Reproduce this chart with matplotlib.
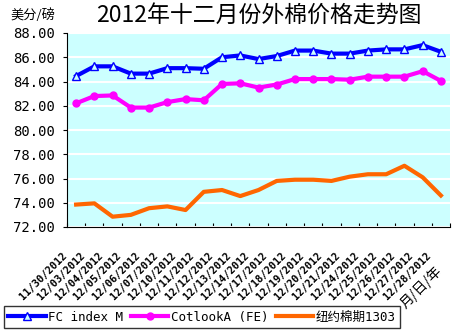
import matplotlib

matplotlib.use("Agg")
from matplotlib import pyplot as plt

plt.rcParams['font.family'] = ['Noto Sans CJK SC', 'DejaVu Sans']

dates = ['11/30/2012', '12/03/2012', '12/04/2012', '12/05/2012', '12/06/2012',
         '12/07/2012', '12/10/2012', '12/11/2012', '12/12/2012', '12/13/2012',
         '12/14/2012', '12/17/2012', '12/18/2012', '12/19/2012', '12/20/2012',
         '12/21/2012', '12/24/2012', '12/25/2012', '12/26/2012', '12/27/2012',
         '12/28/2012']
fc_index = [84.45, 85.25, 85.25, 84.65, 84.65, 85.1, 85.1, 85.05, 86.0, 86.15,
            85.85, 86.1, 86.55, 86.55, 86.3, 86.3, 86.55, 86.65, 86.65, 87.0, 86.45]
cotlook = [82.2, 82.8, 82.85, 81.85, 81.85, 82.3, 82.55, 82.45, 83.8, 83.85,
           83.5, 83.75, 84.2, 84.2, 84.2, 84.15, 84.4, 84.4, 84.4, 84.85, 84.05]
ny_1303 = [73.85, 73.95, 72.85, 73.0, 73.55, 73.7, 73.4, 74.9, 75.05, 74.55,
           75.05, 75.8, 75.9, 75.9, 75.8, 76.15, 76.35, 76.35, 77.05, 76.1, 74.6]

fig = plt.figure(figsize=(4.57, 3.31), dpi=100)
ax = fig.add_axes([67 / 457, 1 - 227 / 331, 383 / 457, 194 / 331])
ax.set_facecolor('#CCFFFF')

x = range(len(dates))
ax.plot(x, fc_index, color='#0000FF', lw=3, marker='^', ms=6,
        mfc='#CCFFFF', mec='#0000FF', mew=1, label='FC index M')
ax.plot(x, cotlook, color='#FF00FF', lw=3, marker='o', ms=5,
        mfc='#FF00FF', mec='#FF00FF', label='CotlookA (FE)')
ax.plot(x, ny_1303, color='#FF6600', lw=3, label='纽约棉期1303')

ax.set_ylim(72, 88)
ax.set_yticks(range(72, 89, 2))
ax.set_yticklabels(['%.2f' % v for v in range(72, 89, 2)], family='DejaVu Sans Mono', fontsize=10)
ax.yaxis.grid(True, color='white', lw=1.5)
ax.set_axisbelow(True)

ax.set_xlim(-0.5, len(dates) - 0.5)
ax.set_xticks([i + 0.5 for i in range(-1, len(dates))])
ax.set_xticklabels([])
ax.tick_params(axis='x', direction='in', length=3)
ax.tick_params(axis='y', direction='out', length=3, pad=6)
for i, d in enumerate(dates):
    ax.text(i - 0.8, 70.1, d, rotation=45, ha='right', va='top', rotation_mode='anchor',
            fontsize=7.5, fontweight='bold', family='DejaVu Sans Mono')
fig.text(421 / 457, 1 - 287 / 331, '月/日/年', rotation=45, ha='center', va='center',
         fontsize=10)

for s in ['top', 'right']:
    ax.spines[s].set_visible(False)

fig.text(259 / 457, 1 - 16 / 331, '2012年十二月份外棉价格走势图', ha='center', va='center', fontsize=16.5)
fig.text(10 / 457, 1 - 15 / 331, '美分/磅', ha='left', va='center', fontsize=9.5)

fig.legend(loc='lower left', bbox_to_anchor=(4 / 457, 3 / 331), ncol=3, frameon=True,
           fancybox=False, edgecolor='black', handlelength=3.0,
           borderpad=0.35, borderaxespad=0, columnspacing=0.6, handletextpad=0.2,
           prop={'family': ['DejaVu Sans Mono', 'Noto Sans CJK SC'], 'size': 9})

fig.savefig('out.png', dpi=100)
